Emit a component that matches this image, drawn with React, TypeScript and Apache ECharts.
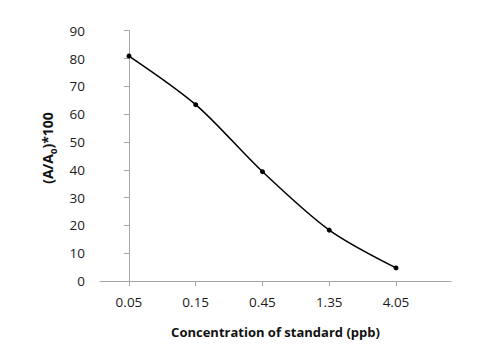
import React, { useEffect, useRef } from "react";
import * as echarts from "echarts";

const categories = ["0.05", "0.15", "0.45", "1.35", "4.05"];
const values = [80.9, 63.4, 39.3, 18.3, 4.7];
const yTicks = [0, 10, 20, 30, 40, 50, 60, 70, 80, 90];

export default function App() {
  const ref = useRef<HTMLDivElement>(null);
  useEffect(() => {
    const chart = echarts.init(ref.current!, null, { renderer: "svg" });
    const idx = categories.map((_, i) => i);
    chart.setOption({
      animation: false,
      backgroundColor: "#ffffff",
      textStyle: { fontFamily: "Open Sans" },
      grid: { left: 100, right: 29, top: 30.7, bottom: 79 },
      xAxis: {
        type: "value",
        min: -0.434,
        max: 4.824,
        splitLine: { show: false },
        axisLine: { lineStyle: { color: "#a6a6a6", width: 1 } },
        axisTick: {
          show: true,
          length: 5,
          customValues: idx,
          lineStyle: { color: "#a6a6a6" },
        },
        axisLabel: {
          customValues: idx,
          margin: 14,
          fontSize: 13.5,
          color: "#1a1a1a",
          fontFamily: "Open Sans",
          formatter: (v: number) => categories[Math.round(v)] ?? "",
        },
        name: "Concentration of standard (ppb)",
        nameLocation: "middle",
        nameGap: 44,
        nameTextStyle: {
          fontSize: 13,
          fontWeight: "bold",
          color: "#111",
          fontFamily: "Open Sans",
        },
      },
      yAxis: {
        type: "value",
        min: 0,
        max: 90,
        interval: 10,
        splitLine: { show: false },
        axisLine: { show: true, lineStyle: { color: "#a6a6a6", width: 1 } },
        axisTick: { show: true, length: 5, lineStyle: { color: "#a6a6a6" } },
        axisLabel: {
          customValues: yTicks,
          margin: 15,
          fontSize: 13.5,
          color: "#1a1a1a",
          fontFamily: "Open Sans",
        },
      },
      graphic: [
        {
          type: "text",
          x: 47,
          y: 148,
          rotation: Math.PI / 2,
          style: {
            text: "{n|(A/A}{s|0}{n|)*100}",
            align: "center",
            verticalAlign: "middle",
            rich: {
              n: {
                fontSize: 14,
                fontWeight: "bold",
                fill: "#111",
                fontFamily: "Open Sans",
                lineHeight: 22,
                verticalAlign: "middle",
              },
              s: {
                fontSize: 9.5,
                fontWeight: "bold",
                fill: "#111",
                fontFamily: "Open Sans",
                lineHeight: 12,
                verticalAlign: "bottom",
              },
            },
          },
        },
      ],
      series: [
        {
          type: "line",
          data: values.map((v, i) => [i, v]),
          smooth: 0.3,
          symbol: "circle",
          symbolSize: 5,
          itemStyle: { color: "#000" },
          lineStyle: { color: "#000", width: 1.5 },
        },
      ],
    });
    return () => chart.dispose();
  }, []);
  return <div ref={ref} style={{ width: 480, height: 360, marginLeft: -8, marginTop: -8 }} />;
}
